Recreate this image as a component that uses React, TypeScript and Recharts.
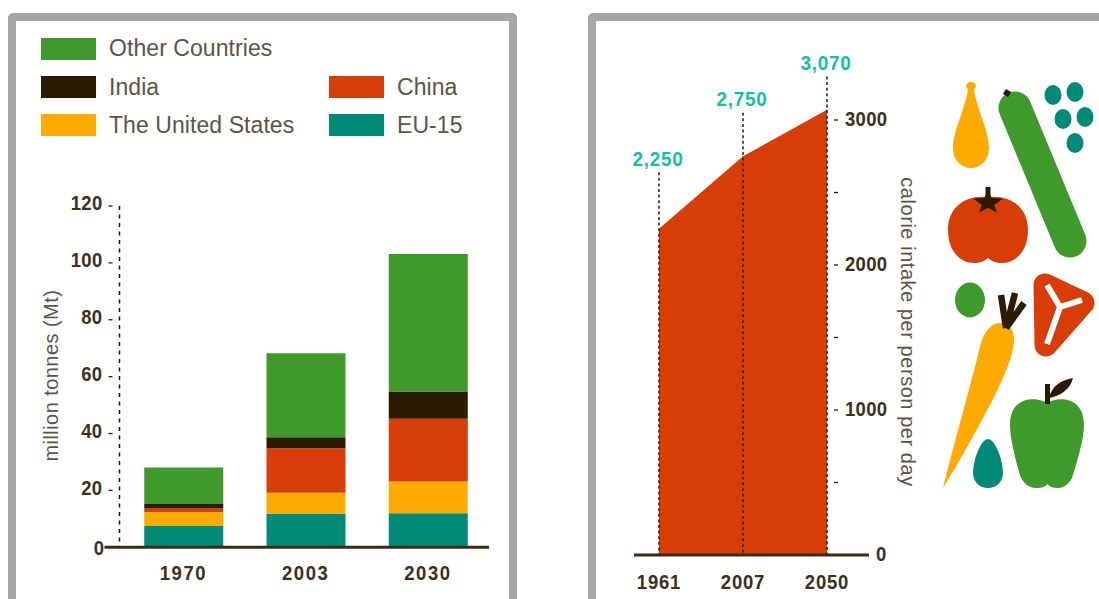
import { AreaChart, Area, BarChart, Bar, XAxis, YAxis, ReferenceLine } from 'recharts';

const DARK = '#2b1b00';
const GREEN = '#3f992b';
const RED = '#d93d07';
const AMBER = '#ffaa00';
const TEAL = '#008a78';
const AQUA = '#12bfa8';
const MUTED = '#5b5444';
const SANS = '"Liberation Sans", Arial, sans-serif';

// demand by region, million tonnes
const meatYears = ['1970', '2003', '2030'];
const eu15 = [7.5, 11.8, 12];
const unitedStates = [4.9, 7.4, 11.1];
const china = [1.2, 15.6, 22.1];
const india = [1.6, 3.9, 9.6];
const otherCountries = [12.9, 29.5, 48.3];
const meatTicks = [0, 20, 40, 60, 80, 100, 120];

// calorie intake
const calorieYears = ['1961', '2007', '2050'];
const calories = [2250, 2750, 3070];
const calorieLabels = ['2,250', '2,750', '3,070'];
const leaderTops = [2640, 3050, 3300];
const calorieTicks = [0, 500, 1000, 1500, 2000, 2500, 3000];

const legendLabels = ['Other Countries', 'India', 'China', 'The United States', 'EU-15'];
const legendColors = [GREEN, DARK, RED, AMBER, TEAL];

const meatData = meatYears.map((year, i) => ({
  year,
  eu15: eu15[i],
  unitedStates: unitedStates[i],
  china: china[i],
  india: india[i],
  otherCountries: otherCountries[i],
}));
const calorieData = calorieYears.map((year, i) => ({ year, calories: calories[i] }));

const stack = [
  { key: 'eu15', color: TEAL },
  { key: 'unitedStates', color: AMBER },
  { key: 'china', color: RED },
  { key: 'india', color: DARK },
  { key: 'otherCountries', color: GREEN },
];

// two column legend, first row only has one entry
const legendSlots = [
  { left: 41, top: 38, nudge: -2 },
  { left: 41, top: 76, nudge: 0 },
  { left: 329, top: 76, nudge: 0 },
  { left: 41, top: 114, nudge: 0 },
  { left: 329, top: 114, nudge: 0 },
];

// no condensed face is installed, so the bold numerals are squeezed horizontally
function Num({ x, y, anchor = 'middle', spacing = 0.4, fill = '#3d301a', squeeze = 0.88, children }: any) {
  return (
    <text transform={`translate(${x} ${y}) scale(${squeeze} 1)`} textAnchor={anchor} dominantBaseline="central"
      fontFamily={SANS} fontWeight={700} fontSize={21} fill={fill} letterSpacing={spacing}>{children}</text>
  );
}

function MeatYTick({ x, y, payload }: any) {
  const v = payload.value;
  if (v === 0) return <Num x={x - 15} y={y} anchor="end">0</Num>;
  return (
    <g>
      <Num x={x - 17} y={y - 3} anchor="end">{v}</Num>
      <line x1={x - 11} x2={x - 7} y1={y} y2={y} stroke={DARK} strokeWidth={1.3} />
    </g>
  );
}

function CalorieYTick({ x, y, payload }: any) {
  const v = payload.value;
  if (v === 0) return <Num x={x + 49} y={y - 1} anchor="start">0</Num>;
  return (
    <g>
      <line x1={x + 7} x2={x + 11} y1={y} y2={y} stroke={DARK} strokeWidth={1.3} />
      {v % 1000 === 0 && <Num x={x + 18} y={y - 1} anchor="start">{v}</Num>}
    </g>
  );
}

function Baseline({ x1, x2, y1, before, after }: any) {
  return <line x1={x1 - before} x2={x2 + after} y1={y1} y2={y1} stroke="#3a2c14" strokeWidth={3} />;
}

function Leader({ x1, y1, y2, text }: any) {
  const top = Math.min(y1, y2);
  const bottom = Math.max(y1, y2);
  return (
    <g>
      <line x1={x1} x2={x1} y1={top} y2={bottom} stroke={DARK} strokeWidth={1.5} strokeDasharray="3 2.6" />
      <Num x={x1 - 1} y={top - 14} spacing={0.8} squeeze={0.9} fill={AQUA}>{text}</Num>
    </g>
  );
}

function Panel({ left, width }: { left: number; width: number }) {
  return (
    <div style={{
      position: 'absolute', left, top: 13, width, height: 640, boxSizing: 'border-box',
      border: '8px solid #a6a6a6', borderRadius: 5, background: '#fff',
    }} />
  );
}

function Produce() {
  return (
    <svg width={1099} height={599} style={{ position: 'absolute', left: 0, top: 0, pointerEvents: 'none' }}>
      {/* gourd */}
      <ellipse cx={971} cy={86} rx={5} ry={4} fill={AMBER} />
      <path d="M968 88 L974 88 C975 105 989 130 989 148 C989 160 981 168 971 168 C961 168 953 160 953 148 C953 130 967 105 968 88 Z" fill={AMBER} />
      {/* cucumber */}
      <line x1={1015} y1={108} x2={1070} y2={241} stroke={GREEN} strokeWidth={33} strokeLinecap="round" />
      <rect x={1004} y={90} width={6} height={6} fill={DARK} transform="rotate(30 1007 93)" />
      {/* grapes */}
      <ellipse cx={1053} cy={95} rx={8.5} ry={10} fill={TEAL} />
      <ellipse cx={1075} cy={92} rx={8.5} ry={10} fill={TEAL} />
      <ellipse cx={1063} cy={119} rx={8.5} ry={10} fill={TEAL} />
      <ellipse cx={1085} cy={117} rx={8.5} ry={10} fill={TEAL} />
      <ellipse cx={1075} cy={143} rx={8.5} ry={10} fill={TEAL} />
      {/* tomato */}
      <path d="M988 197 C1012 195 1028 208 1028 230 C1028 252 1015 263 1002 263 C996 263 991 261 988 258 C985 261 980 263 974 263 C961 263 948 252 948 230 C948 208 964 195 988 197 Z" fill={RED} />
      <rect x={985.5} y={187} width={5} height={14} fill={DARK} />
      <polygon points="988,190 991.5,198 1003,198.5 994,205 997,212.5 988,208 979,212.5 982,205 973,198.5 984.5,198" fill={DARK} />
      {/* pea */}
      <ellipse cx={970} cy={300} rx={15} ry={17.5} fill={GREEN} />
      {/* steak */}
      <polygon points="1045,285 1083,303 1046,345" fill={RED} stroke={RED} strokeWidth={23} strokeLinejoin="round" />
      <path d="M1047 285 L1060 307 L1082 300 M1060 307 L1047 344" fill="none" stroke="#fff" strokeWidth={6} />
      {/* carrot */}
      <path d="M943 488 C955 440 972 380 980 347 C984 330 992 323 1001 323 C1010 323 1015 332 1014 342 C1013 355 1005 375 995 395 C980 425 960 460 943 488 Z" fill={AMBER} />
      <path d="M1006 328 L1001 295 M1006 328 L1015 293 M1006 328 L1024 303" stroke={DARK} strokeWidth={6.5} fill="none" />
      {/* plum */}
      <path d="M988 439 C995 439 1003 460 1003 473 C1003 482 996 488 988 488 C980 488 973 482 973 473 C973 460 981 439 988 439 Z" fill={TEAL} />
      {/* apple */}
      <path d="M1047 403 C1055 397 1084 394 1084 425 C1084 440 1076 465 1073 475 C1070 485 1062 488 1058 488 C1053 488 1050 487 1047.5 484 C1045 487 1042 488 1036 488 C1030 488 1023 484 1020 475 C1017 465 1010 440 1010 425 C1010 394 1039 397 1047 403 Z" fill={GREEN} />
      <rect x={1045} y={384} width={5} height={20} fill={DARK} />
      <path d="M1049 398 C1052 385 1062 380 1073 378 C1070 390 1060 396 1049 398 Z" fill={DARK} />
    </svg>
  );
}

export default function App() {
  return (
    <div style={{ position: 'absolute', left: 0, top: 0, width: 1099, height: 599, overflow: 'hidden', background: '#fff' }}>
      <Panel left={8} width={509} />
      <Panel left={588} width={600} />

      {legendLabels.map((label, i) => (
        <div key={label} style={{ position: 'absolute', left: legendSlots[i].left, top: legendSlots[i].top, height: 22, display: 'flex', alignItems: 'center' }}>
          <span style={{ width: 55, height: 22, background: legendColors[i], display: 'block' }} />
          <span style={{ marginLeft: 13, marginTop: legendSlots[i].nudge, fontFamily: SANS, fontSize: 23, color: MUTED, letterSpacing: 0.07, whiteSpace: 'nowrap' }}>{label}</span>
        </div>
      ))}

      <div style={{ position: 'absolute', left: 0, top: 0 }}>
        <BarChart width={520} height={599} data={meatData} barSize={79} margin={{ top: 206, right: 31, bottom: 0, left: 0 }}>
          <XAxis dataKey="year" height={51.7} axisLine={false} tickLine={false} tickSize={0} tickMargin={0} interval={0}
            padding={{ left: 2.75, right: 0 }}
            tick={(p: any) => <Num x={p.x} y={p.y + 25.7} spacing={1.8}>{p.payload.value}</Num>} />
          <YAxis width={119.5} domain={[0, 120]} ticks={meatTicks} tickLine={false} tickSize={0} tickMargin={0} interval={0}
            axisLine={{ stroke: '#1e1400', strokeWidth: 1.5, strokeDasharray: '4 4.5' }} tick={MeatYTick}
            label={{ value: 'million tonnes (Mt)', angle: -90, position: 'insideLeft', dx: 46, dy: -1,
              style: { fontFamily: SANS, fontSize: 20, fill: MUTED, textAnchor: 'middle', letterSpacing: 0.45 } }} />
          {stack.map((s) => (
            <Bar key={s.key} dataKey={s.key} stackId="meat" fill={s.color} isAnimationActive={false} />
          ))}
          <ReferenceLine y={0} shape={(p: any) => <Baseline {...p} before={15} after={0} />} />
        </BarChart>
      </div>

      <div style={{ position: 'absolute', left: 597, top: 0 }}>
        <AreaChart width={500} height={599} data={calorieData}
          margin={{ top: 555 - 3400 * 0.145, right: 210, bottom: 0, left: 62 }}>
          <XAxis dataKey="year" height={44} axisLine={false} tickLine={false} tickSize={0} tickMargin={0} interval={0}
            tick={(p: any) => <Num x={p.x} y={p.y + 27} spacing={0.9}>{p.payload.value}</Num>} />
          <YAxis orientation="right" yAxisId={0} width={60} domain={[0, 3400]} ticks={calorieTicks} interval={0}
            axisLine={false} tickLine={false} tickSize={0} tickMargin={0} tick={CalorieYTick} />
          <Area dataKey="calories" type="linear" stroke="none" fill={RED} fillOpacity={1} isAnimationActive={false} dot={false} />
          {calorieYears.map((year, i) => (
            <ReferenceLine key={year} segment={[{ x: year, y: 0 }, { x: year, y: leaderTops[i] }]}
              shape={(p: any) => <Leader {...p} text={calorieLabels[i]} />} />
          ))}
          <ReferenceLine segment={[{ x: calorieYears[0], y: 0 }, { x: calorieYears[2], y: 0 }]}
            shape={(p: any) => <Baseline {...p} before={25} after={42} />} />
        </AreaChart>
      </div>

      <div style={{
        position: 'absolute', left: 908, top: 332, width: 340, marginLeft: -170, marginTop: -12, height: 24, lineHeight: '24px',
        textAlign: 'center', transform: 'rotate(90deg)', fontFamily: SANS, fontSize: 20, letterSpacing: 0.55, color: MUTED, whiteSpace: 'nowrap',
      }}>calorie intake per person per day</div>

      <Produce />
    </div>
  );
}
